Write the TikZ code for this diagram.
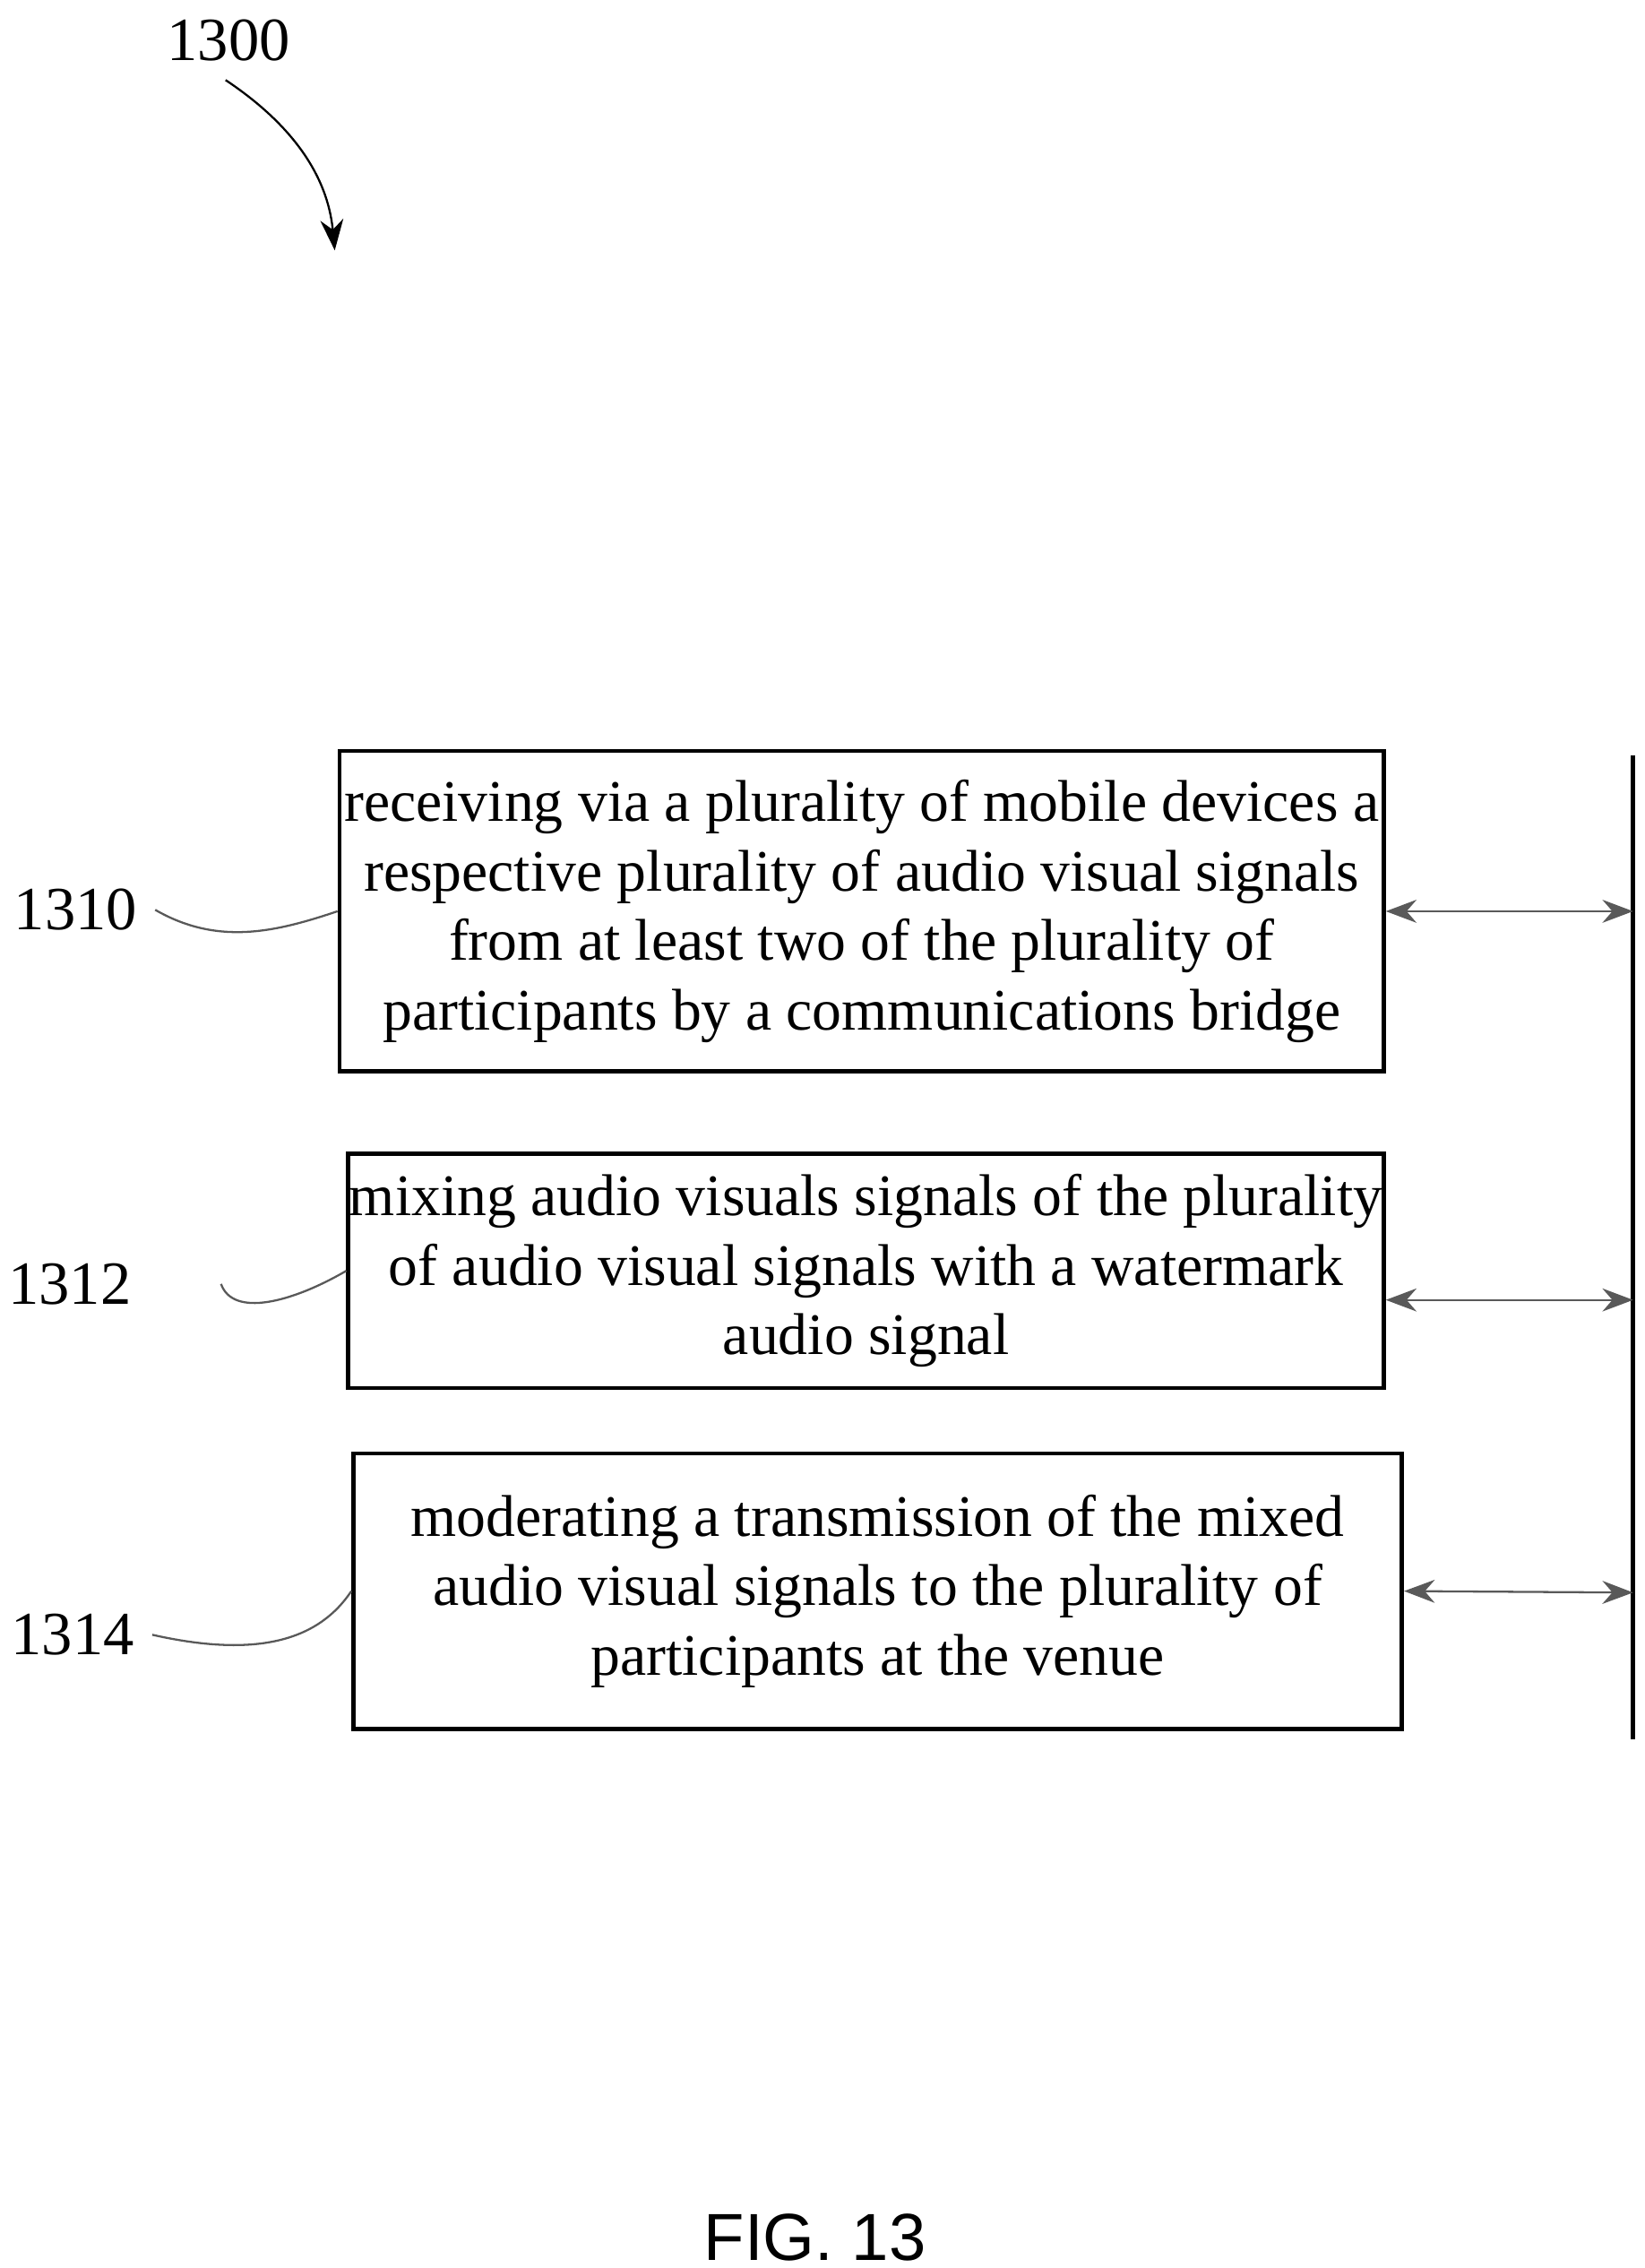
\documentclass[tikz,border=0pt]{standalone}
\usepackage{fontspec}
\setmainfont{Liberation Serif}
\setsansfont{Liberation Sans}
\usetikzlibrary{arrows.meta}
\begin{document}
\begin{tikzpicture}[x=0.01cm,y=-0.01cm,
    stepbox/.style={draw, thick, align=center, inner sep=0pt, font=\fontsize{11.5}{13.6}\selectfont},
    ref/.style={font=\fontsize{12}{14}\selectfont},
    link/.style={{Stealth[length=6pt]}-{Stealth[length=6pt]}, gray!70!black}]
    \useasboundingbox (0,0) rectangle (1130,1558);

        % Figure number and pointer
        \node[ref] (n1300) at (157,28) {1300};
        \coordinate (p1300) at (230,172);
        \draw[-{Stealth[length=6pt]}] (155,55) .. controls (200,85) and (225,120) .. (p1300);

        % Steps
        \node[stepbox, minimum width=7.17cm, minimum height=2.2cm] (b1) at (592,626)
            {receiving via a plurality of mobile devices a\\respective plurality of audio visual signals\\from at least two of the plurality of\\participants by a communications bridge};
        \node[stepbox, minimum width=7.11cm, minimum height=1.61cm] (b2) at (595,873)
            {mixing audio visuals signals of the plurality\\of audio visual signals with a watermark\\audio signal};
        \node[stepbox, minimum width=7.2cm, minimum height=1.89cm] (b3) at (603,1093)
            {moderating a transmission of the mixed\\audio visual signals to the plurality of\\participants at the venue};

        % Bus line
        \coordinate (top) at (1122,519);
        \coordinate (bot) at (1122,1195);
        \draw[thick] (top) -- (bot);
        \coordinate (c1) at (1122,626);
        \coordinate (c2) at (1122,893);
        \coordinate (c3) at (1122,1094);
        \draw[link] (b1.east) -- (c1);
        \draw[link] (b2.east |- c2) -- (c2);
        \draw[link] (b3.east) -- (c3);

        % Reference labels
        \node[ref] (n1310) at (52,625) {1310};
        \node[ref] (n1312) at (48,882) {1312};
        \node[ref] (n1314) at (50,1123) {1314};
        \draw[gray!70!black] (n1310.east) .. controls (150,650) and (190,640) .. (b1.west);
        \draw[gray!70!black] ([xshift=14]n1312.east) .. controls (160,905) and (200,895) .. (b2.west);
        \draw[gray!70!black] (n1314.east) .. controls (180,1140) and (220,1125) .. (b3.west);

        % Caption
        \node[font=\sffamily\fontsize{13}{15}\selectfont] (cap) at (560,1537) {FIG. 13};
    \end{tikzpicture}
\end{document}
